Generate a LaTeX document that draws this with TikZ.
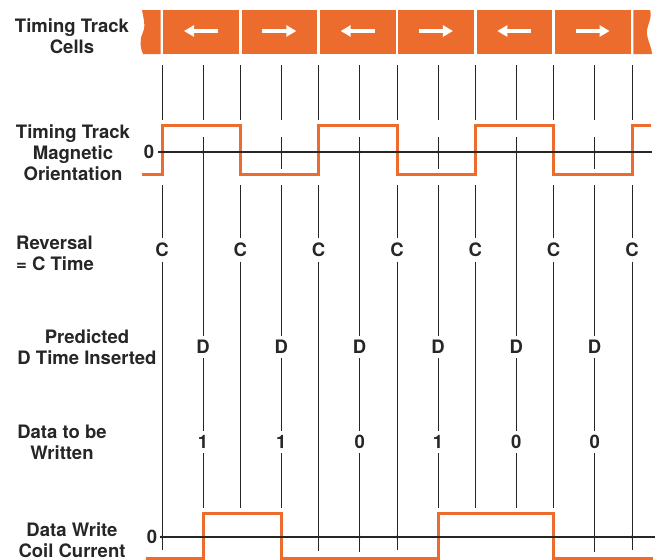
\documentclass[tikz,border=0pt]{standalone}
\usepackage{fontspec}
\setmainfont{TeX Gyre Heros}
\usetikzlibrary{arrows.meta}

\def\cellw{78.33}
\def\leftend{(142,10) -- (160.7,10) -- (160.7,54) -- (143,54)
    .. controls (139.5,46) and (140,38) .. (143,32)
    .. controls (146,26) and (143,16) .. (142,10) -- cycle}
\def\rightend{(633.3,10) -- (650,10)
    .. controls (653,18) and (646,26) .. (647,34)
    .. controls (648,42) and (652,48) .. (652,54) -- (633.3,54) -- cycle}
\definecolor{tape orange}{RGB}{236,108,46}
\colorlet{ink}{black!85}
\tikzset{rowtitle/.style={font=\bfseries\fontsize{18.5}{21}\selectfont, text=ink, align=center, inner sep=0pt},
    timemark/.style={font=\bfseries\fontsize{18.5}{18.5}\selectfont, text=ink, inner sep=4.5pt},
    guide/.style={draw=ink, line width=0.8pt},
    pulse/.style={draw=tape orange, line width=3pt},
    zeroline/.style={draw=ink, line width=1.2pt},
    cellarrow/.style={draw=white, line width=4pt, -{Triangle[length=10pt,width=11pt]}}}

\begin{document}
\begin{tikzpicture}[x=1pt, y=-1pt]
    \useasboundingbox (0,0) rectangle (657,560);
    % row titles
    \node[rowtitle] (cells) at (72,36) {Timing Track\\Cells};
    \node[rowtitle] (orient) at (73,153) {Timing Track\\Magnetic\\Orientation};
    \node[rowtitle, align=left, anchor=west] (reversal) at (16,253) {Reversal\\= C Time};
    \node[rowtitle] (predicted) at (87,347) {Predicted\\D Time Inserted};
    \node[rowtitle] (data) at (62,442) {Data to be\\Written};
    \node[rowtitle] (coil) at (72,540) {Data Write\\Coil Current};

    % timing track cells
    \fill[tape orange] \leftend;
    \fill[tape orange] \rightend;
    \foreach \i/\s in {0/-1,1/1,2/-1,3/1,4/-1,5/1} {
        \fill[tape orange] ({162+\cellw*\i+1.3},10) rectangle ({162+\cellw*(\i+1)-1.3},54);
        \draw[cellarrow] ({201+\cellw*\i-17*\s},31) -- ({201+\cellw*\i+17*\s},31);
    }

    % C times
    \foreach \i/\cend in {0/550,1/508,2/551,3/550,4/508,5/508,6/550} {
        \pgfmathsetmacro\cx{162+\cellw*\i}
        \draw[guide] (\cx,65) -- (\cx,120);
        \node[timemark] (c\i) at (\cx,250) {C};
        \draw[guide] (\cx,185) -- (c\i);
        \draw[guide] (c\i) -- (\cx,\cend);
        \ifnum\cend>540 \fill[ink] (\cx,537) circle (1.7pt); \fi
    }

    % D times
    \foreach \j/\bit/\dend/\hi in {0/1/508/1,1/1/508/0,2/0/552/1,3/1/508/0,4/0/508/1,5/0/552/0} {
        \pgfmathsetmacro\dx{203+\cellw*\j}
        \draw[guide] (\dx,65) -- (\dx,120);
        \node[timemark] (d\j) at (\dx,347) {D};
        \node[timemark] (b\j) at (\dx,442) {\bit};
        \ifnum\hi=1
            \draw[guide] (\dx,137) -- (d\j);
        \else
            \draw[guide] (\dx,137) -- (\dx,169);
            \draw[guide] (\dx,185) -- (d\j);
        \fi
        \draw[guide] (d\j) -- (b\j);
        \draw[guide] (b\j) -- (\dx,\dend);
        \fill[ink] (\dx,152) circle (1.7pt);
        \ifnum\dend>540 \fill[ink] (\dx,537) circle (1.7pt); \fi
    }

    % waveforms
    \draw[pulse] (142,174) -| (162,125) -| (240.3,174) -| (318.7,125) -| (397,174)
        -| (475.3,125) -| (553.7,174) -| (632,125) -- (651,125);
    \draw[pulse] (146,558) -| (203,513) -| (281.3,558) -| (438,513) -| (553.7,558) -- (653,558);

    \node[timemark, inner sep=4pt] (zerotop) at (149,152) {0};
    \draw[zeroline] (zerotop) -- (652,152);
    \node[timemark, inner sep=3pt] (zerobot) at (152,537) {0};
    \draw[zeroline] (zerobot) -- (655,537);
\end{tikzpicture}
\end{document}
